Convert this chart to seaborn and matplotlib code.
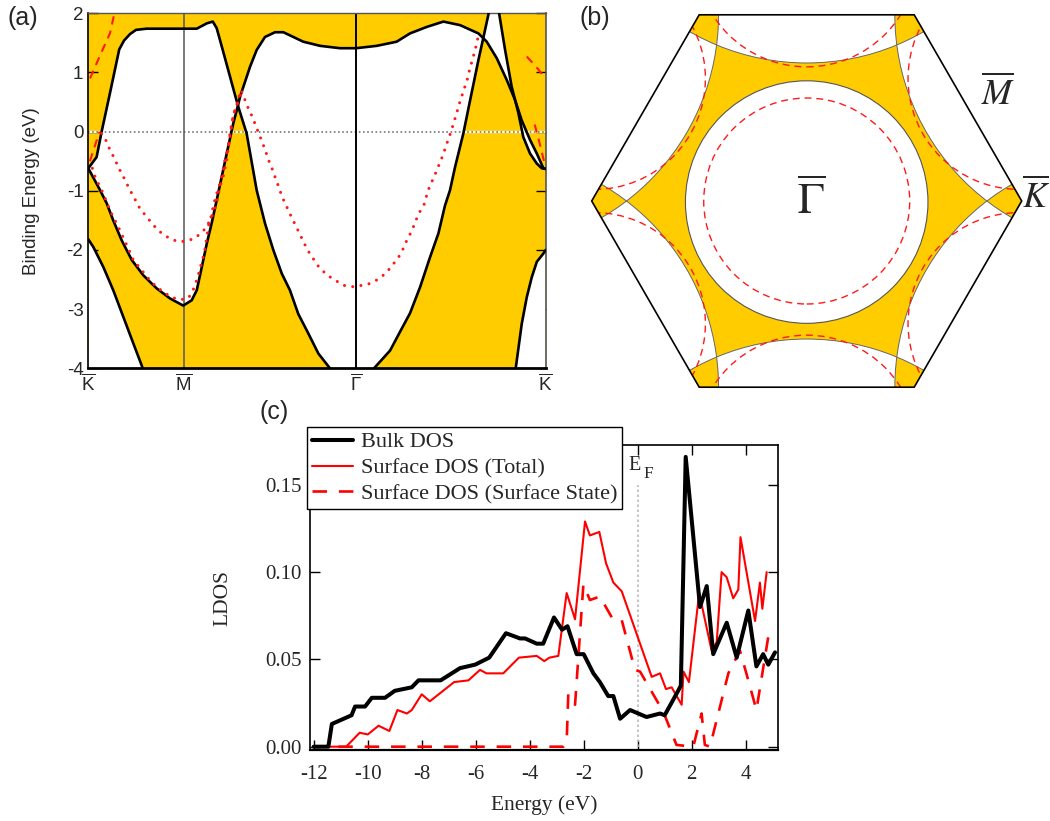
import numpy as np
import matplotlib
matplotlib.use("Agg")
import matplotlib.pyplot as plt
import seaborn as sns
from matplotlib.patches import Polygon, Circle, PathPatch
from matplotlib.path import Path

# ======================= DATA =======================
# ---- panel (a): projected band structure along K-M-Gamma-K ----
K_TICKS = [0.0, 0.495, 1.385, 2.366]
K_LABELS = [r"$\overline{\mathrm{K}}$", r"$\overline{\mathrm{M}}$",
            r"$\overline{\Gamma}$", r"$\overline{\mathrm{K}}$"]
E_TICKS = [2, 1, 0, -1, -2, -3, -4]
E_TICK_LABELS = ["2", "1", "0", "-1", "-2", "-3", "-4"]

# crossing points shared by boundary curves
X1 = (0.774, 0.44)
X2 = (2.043, 1.58)
X3 = (2.208, 0.53)

BAND_A_K = [0.000, 0.043, 0.069, 0.112, 0.160, 0.185, 0.216, 0.247, 0.302, 0.561, 0.613,
            0.644, 0.664, 0.698, 0.733, 0.774, 0.819, 0.871, 0.914, 0.957, 1.001, 1.043,
            1.086, 1.138, 1.190, 1.250]
BAND_A_E = [-0.62, -0.43, 0.00, 0.65, 1.39, 1.54, 1.65, 1.72, 1.74, 1.74, 1.83,
            1.86, 1.75, 1.35, 0.93, 0.44, -0.03, -0.99, -1.55, -2.00, -2.40, -2.68,
            -3.08, -3.41, -3.75, -4.00]

BAND_C_K = [0.000, 0.061, 0.095, 0.129, 0.173, 0.225, 0.285, 0.354, 0.423, 0.491, 0.535,
            0.561, 0.587, 0.613, 0.638, 0.664, 0.716, 0.750, 0.774, 0.785, 0.837, 0.871,
            0.914, 0.966, 1.009, 1.112, 1.199, 1.302, 1.385, 1.492, 1.595, 1.664, 1.751,
            1.837, 1.923, 2.018, 2.043, 2.061, 2.113, 2.165, 2.208, 2.242, 2.285, 2.320,
            2.354, 2.366]
BAND_C_E = [-0.62, -0.99, -1.21, -1.50, -1.84, -2.17, -2.43, -2.65, -2.82, -2.94, -2.85,
            -2.68, -2.29, -1.89, -1.55, -1.16, -0.37, 0.14, 0.44, 0.59, 1.10, 1.38,
            1.60, 1.68, 1.68, 1.52, 1.45, 1.41, 1.41, 1.45, 1.52, 1.66, 1.77,
            1.86, 1.80, 1.66, 1.58, 1.52, 1.24, 0.87, 0.53, 0.19, -0.14, -0.37,
            -0.62, -0.63]

BAND_D_K = [1.478, 1.561, 1.613, 1.664, 1.716, 1.768, 1.811, 1.845, 1.871, 1.897, 1.940,
            1.975, 2.018, 2.043, 2.071]
BAND_D_E = [-4.00, -3.70, -3.38, -3.07, -2.63, -2.12, -1.72, -1.25, -0.99, -0.60, -0.03,
            0.53, 1.21, 1.58, 2.00]

BAND_B_K = [2.125, 2.156, 2.190, 2.208, 2.225, 2.250, 2.285, 2.320, 2.346, 2.366]
BAND_B_E = [2.00, 1.38, 0.76, 0.53, 0.31, -0.09, -0.37, -0.54, -0.62, -0.63]

BAND_L1_K = [0.000, 0.026, 0.078, 0.129, 0.181, 0.233, 0.276, 0.281]
BAND_L1_E = [-1.82, -1.95, -2.29, -2.68, -3.13, -3.58, -3.95, -4.00]
BAND_L2_K = [2.366, 2.354, 2.320, 2.294, 2.268, 2.242, 2.213, 2.211]
BAND_L2_E = [-2.00, -2.06, -2.20, -2.46, -2.80, -3.25, -3.95, -4.00]

# surface states (red dotted)
SS1_K = [0.069, 0.095, 0.112, 0.135, 0.155, 0.178, 0.199, 0.221, 0.267, 0.302, 0.336,
         0.380, 0.423, 0.466, 0.509, 0.552, 0.595, 0.621, 0.647, 0.664, 0.681, 0.698,
         0.716, 0.733, 0.750, 0.768, 0.794]
SS1_E = [-0.03, -0.17, -0.31, -0.45, -0.60, -0.74, -0.88, -1.02, -1.30, -1.44, -1.58,
         -1.72, -1.81, -1.86, -1.85, -1.80, -1.68, -1.55, -1.38, -1.21, -0.93, -0.76,
         -0.48, -0.03, 0.28, 0.45, 0.67]
SS3_K = [0.021, 0.035, 0.057, 0.078, 0.112, 0.155, 0.199, 0.233, 0.276, 0.305, 0.345,
         0.388, 0.431, 0.474, 0.517, 0.543, 0.564, 0.578, 0.592, 0.604, 0.613, 0.624,
         0.638, 0.647, 0.664, 0.678, 0.695, 0.707, 0.724, 0.737, 0.750, 0.768, 0.785]
SS3_E = [-0.62, -0.76, -0.91, -1.05, -1.33, -1.61, -1.92, -2.17, -2.34, -2.46, -2.60,
         -2.71, -2.80, -2.84, -2.82, -2.67, -2.48, -2.31, -2.15, -1.98, -1.78, -1.55,
         -1.41, -1.24, -1.05, -0.91, -0.68, -0.48, -0.26, 0.00, 0.28, 0.45, 0.66]
SS2_K = [0.794, 0.811, 0.828, 0.850, 0.866, 0.883, 0.900, 0.916, 0.931, 0.949, 0.964,
         0.980, 0.995, 1.012, 1.032, 1.052, 1.073, 1.094, 1.114, 1.138, 1.166, 1.195,
         1.238, 1.281, 1.324, 1.368, 1.411, 1.454, 1.497, 1.540, 1.575, 1.607, 1.630,
         1.650, 1.673, 1.690, 1.707, 1.737, 1.751, 1.763, 1.782, 1.802, 1.819, 1.837,
         1.850, 1.866, 1.880, 1.893, 1.906, 1.919, 1.933, 1.947, 1.961, 1.971, 1.983,
         1.995, 2.006, 2.018]
SS2_E = [0.67, 0.53, 0.39, 0.24, 0.10, -0.04, -0.18, -0.32, -0.47, -0.61, -0.75,
         -0.89, -1.03, -1.17, -1.31, -1.45, -1.59, -1.73, -1.87, -2.02, -2.16, -2.30,
         -2.43, -2.52, -2.60, -2.62, -2.60, -2.57, -2.50, -2.39, -2.25, -2.11, -1.97,
         -1.82, -1.68, -1.54, -1.40, -1.23, -1.07, -0.95, -0.81, -0.66, -0.52, -0.38,
         -0.24, -0.10, 0.04, 0.18, 0.32, 0.47, 0.61, 0.75, 0.89, 1.03, 1.17,
         1.31, 1.45, 1.62]
# red dashed pieces near K
SSD1_K = [0.009, 0.061, 0.112, 0.135]
SSD1_E = [0.90, 1.29, 1.66, 2.00]
SSD2_K = [0.008, 0.030, 0.058]
SSD2_E = [-0.50, -0.28, 0.00]
SSD3_K = [2.268, 2.310, 2.366]
SSD3_E = [1.27, 1.12, 0.90]
SSD4_K = [2.309, 2.335, 2.361]
SSD4_E = [0.12, -0.20, -0.55]

# ---- panel (b): Fermi-surface cut (units of BZ corner radius) ----
BZ_RADIUS = 1.0
INNER_R = 0.564
OUTER_R = 1.09
OUTER_DIST = 1.732
SS_INNER_R = 0.479
SS_OUTER_R = 0.516
SS_OUTER_DIST = 1.14
M_DIRECTIONS = [30, 90, 150, 210, 270, 330]
HEX_ANGLES = [0, 60, 120, 180, 240, 300]

# ---- panel (c): LDOS ----
E_BULK = [-12.0, -11.46, -11.33, -10.6, -10.47, -10.1, -9.85, -9.36, -9.0, -8.37, -8.12,
          -7.3, -6.58, -6.02, -5.5, -4.88, -4.36, -4.17, -3.74, -3.5, -3.1, -2.8, -2.6,
          -2.26, -2.0, -1.64, -1.4, -1.09, -0.9, -0.65, -0.28, 0.33, 0.83, 1.0, 1.5,
          1.6, 1.78, 2.31, 2.56, 2.8, 3.3, 3.67, 4.1, 4.4, 4.65, 4.84, 5.09]
LDOS_BULK = [0.0, 0.0, 0.013, 0.018, 0.023, 0.023, 0.028, 0.028, 0.032, 0.034, 0.038,
             0.038, 0.045, 0.047, 0.051, 0.065, 0.062, 0.062, 0.059, 0.059, 0.074, 0.067, 0.069,
             0.053, 0.053, 0.042, 0.037, 0.029, 0.029, 0.016, 0.021, 0.017, 0.019, 0.018, 0.032,
             0.035, 0.166, 0.080, 0.092, 0.053, 0.071, 0.051, 0.078, 0.046, 0.053, 0.047, 0.054]
E_SURF = [-11.8, -10.8, -10.3, -10.0, -9.6, -9.2, -8.9, -8.55, -8.37, -8.0, -7.7,
          -6.8, -6.27, -5.84, -5.6, -4.98, -4.4, -3.74, -3.46, -3.27, -2.94, -2.63,
          -2.32, -1.95, -1.77, -1.42, -1.17, -0.9, -0.59, 0.52, 0.83, 1.05, 1.26, 1.63,
          1.70, 1.90, 2.28, 2.74, 2.93, 3.11, 3.3, 3.54, 3.73, 3.81, 4.35, 4.53, 4.62, 4.78]
LDOS_SURF = [0.0, 0.0, 0.008, 0.007, 0.012, 0.009, 0.021, 0.019, 0.021, 0.030, 0.026,
             0.037, 0.038, 0.044, 0.042, 0.042, 0.051, 0.052, 0.049, 0.051, 0.052, 0.088,
             0.073, 0.129, 0.121, 0.123, 0.105, 0.094, 0.089, 0.040, 0.042, 0.033, 0.034, 0.024,
             0.043, 0.037, 0.088, 0.055, 0.060, 0.100, 0.097, 0.085, 0.090, 0.120, 0.072, 0.094, 0.079, 0.100]
E_SS = [-12.07, -2.75, -2.63, -2.57, -2.32, -2.01, -1.77, -1.40, -0.90, -0.59, -0.10,
        0.09, 0.95, 1.44, 2.06, 2.37, 2.49, 2.68, 3.36, 3.79, 4.10, 4.40, 4.84]
LDOS_SS = [0.0, 0.0, 0.003, 0.030, 0.024, 0.093, 0.084, 0.086, 0.0725, 0.0725, 0.044,
           0.043, 0.020, 0.001, 0.0, 0.019, 0.001, 0.0, 0.042, 0.055, 0.038, 0.021, 0.063]
DOS_XTICKS = [-12, -10, -8, -6, -4, -2, 0, 2, 4]
DOS_XTICK_LABELS = ["-12", "-10", "-8", "-6", "-4", "-2", "0", "2", "4"]
DOS_YTICKS = [0.00, 0.05, 0.10, 0.15]
DOS_YTICK_LABELS = ["0.00", "0.05", "0.10", "0.15"]
LEGEND_LABELS = ["Bulk DOS", "Surface DOS (Total)", "Surface DOS (Surface State)"]

# ======================= STYLE =======================
sns.set_style("white")
plt.rcParams["font.family"] = ["Liberation Sans", "DejaVu Sans"]
plt.rcParams["mathtext.fontset"] = "custom"
plt.rcParams["mathtext.rm"] = "Liberation Sans"
plt.rcParams["mathtext.it"] = "Liberation Sans:italic"
plt.rcParams["mathtext.bf"] = "Liberation Sans:bold"
YELLOW = "#ffcc00"
SERIF = "Liberation Serif"

W, H = 1050, 821
fig = plt.figure(figsize=(W / 100, H / 100), dpi=100)


def fx(px):
    return px / W


def fy(py):
    return 1 - py / H


# ======================= PANEL (a) =======================
axa = fig.add_axes([fx(88.3), fy(368.3), 457.4 / W, 355 / H])
axa.set_facecolor(YELLOW)
K_END = K_TICKS[-1]


def find(ks, es, p):
    return min(range(len(ks)), key=lambda i: (ks[i] - p[0]) ** 2 + (es[i] - p[1]) ** 2)


def seg(ks, es, i0=0, i1=None):
    if i1 is None:
        i1 = len(ks) - 1
    return list(zip(ks[i0:i1 + 1], es[i0:i1 + 1]))


A = (BAND_A_K, BAND_A_E)
C = (BAND_C_K, BAND_C_E)
D = (BAND_D_K, BAND_D_E)
B = (BAND_B_K, BAND_B_E)
iA1 = find(*A, X1)
iC1, iC2, iC3 = find(*C, X1), find(*C, X2), find(*C, X3)
iD2 = find(*D, X2)
iB3 = find(*B, X3)

gaps = [
    seg(*A, 0, iA1) + seg(*C, 0, iC1)[::-1],
    seg(*A, iA1) + seg(*D, 0, iD2) + seg(*C, iC1, iC2)[::-1],
    seg(*D, iD2) + seg(*B, 0, iB3) + seg(*C, iC2, iC3)[::-1],
    seg(*C, iC3) + seg(*B, iB3)[::-1],
    seg(BAND_L1_K, BAND_L1_E) + [(0.0, -4.0)],
    seg(BAND_L2_K, BAND_L2_E) + [(K_END, -4.0)],
]
for poly in gaps:
    xs, ys = zip(*poly)
    axa.fill(xs, ys, color="white", lw=0, zorder=1)

axa.axhline(0, color="white", lw=1.6, zorder=1.5)
axa.axhline(0, color="#777777", lw=1.2, ls=(0, (1, 1.5)), zorder=1.6)
axa.axvline(K_TICKS[1], color="#555555", lw=1.1, zorder=2)
axa.axvline(K_TICKS[2], color="black", lw=1.4, zorder=2)

for ks, es in [A, C, D, B, (BAND_L1_K, BAND_L1_E), (BAND_L2_K, BAND_L2_E)]:
    sns.lineplot(x=ks, y=es, ax=axa, color="black", lw=1.9, sort=False,
                 estimator=None, zorder=4)
for ks, es in [(SS1_K, SS1_E), (SS3_K, SS3_E), (SS2_K, SS2_E)]:
    sns.lineplot(x=ks, y=es, ax=axa, color="#ff1a1a", lw=2.2, sort=False,
                 estimator=None, linestyle=(0, (0.01, 2.7)), dash_capstyle="round",
                 zorder=5)
for ks, es in [(SSD1_K, SSD1_E), (SSD2_K, SSD2_E), (SSD3_K, SSD3_E), (SSD4_K, SSD4_E)]:
    sns.lineplot(x=ks, y=es, ax=axa, color="#ff1a1a", lw=1.5, sort=False,
                 estimator=None, linestyle=(0, (4, 3)), zorder=5)

axa.set_xlim(0, K_END)
axa.set_ylim(-4, 2)
axa.set_yticks(E_TICKS)
axa.set_yticklabels(E_TICK_LABELS)
axa.set_xticks(K_TICKS)
axa.set_xticklabels(K_LABELS)
axa.tick_params(axis="y", direction="in", length=7, width=1, left=True, right=True,
                labelsize=13.5, pad=3.5, color="black")
axa.tick_params(axis="x", length=0, pad=4, labelsize=13.5)
axa.set_xlabel("")
axa.set_ylabel("Binding Energy (eV)", fontsize=13.5)
axa.yaxis.set_label_coords(-0.105, 0.5)
for s, (c, lw) in {"left": ("black", 1.2), "bottom": ("black", 2.0),
                   "top": ("#555555", 1.0), "right": ("#555555", 1.2)}.items():
    axa.spines[s].set_color(c)
    axa.spines[s].set_linewidth(lw)

# ======================= PANEL (b) =======================
axb = fig.add_axes([fx(585), fy(395), 465 / W, 395 / H])
cx0, cy0, sc = 806.7, 201.0, 215.0
axb.set_xlim((585 - cx0) / sc, (1050 - cx0) / sc)
axb.set_ylim((cy0 - 395) / sc, cy0 / sc)
axb.axis("off")

hang = np.deg2rad(HEX_ANGLES)
hex_xy = np.c_[BZ_RADIUS * np.cos(hang), BZ_RADIUS * np.sin(hang)]
hexp = Polygon(hex_xy, closed=True, fc=YELLOW, ec="none", zorder=1)
axb.add_patch(hexp)

mang = np.deg2rad(M_DIRECTIONS)
centers = [(OUTER_DIST * np.cos(a), OUTER_DIST * np.sin(a)) for a in mang]
for c in centers:
    circ = Circle(c, OUTER_R, fc="white", ec="none", zorder=1.1)
    axb.add_patch(circ)
    circ.set_clip_path(hexp)
for i in range(6):
    clipc = Circle(centers[i], OUTER_R, transform=axb.transData)
    lens = Circle(centers[(i + 1) % 6], OUTER_R, fc=YELLOW, ec="none", zorder=1.2)
    axb.add_patch(lens)
    lens.set_clip_path(clipc)
# white outside the hexagon
outer = np.array([[-3, -3], [3, -3], [3, 3], [-3, 3], [-3, -3]])
hole = np.vstack([hex_xy[::-1], hex_xy[-1:]])
verts = np.vstack([outer, hole])
codes = ([Path.MOVETO] + [Path.LINETO] * 3 + [Path.CLOSEPOLY] +
         [Path.MOVETO] + [Path.LINETO] * 5 + [Path.CLOSEPOLY])
axb.add_patch(PathPatch(Path(verts, codes), fc="white", ec="none", zorder=1.3))

axb.add_patch(Circle((0, -0.005), INNER_R, fc="white", ec="#555555", lw=0.8, zorder=1.4))
for c in centers:
    e = Circle(c, OUTER_R, fill=False, ec="#666666", lw=0.7, zorder=1.5)
    axb.add_patch(e)
    e.set_clip_path(hexp)
axb.add_patch(Circle((0, 0), SS_INNER_R, fill=False, ec="#ff1a1a", lw=1.0,
                     ls=(0, (5, 3.5)), zorder=1.6))
for a in mang:
    e = Circle((SS_OUTER_DIST * np.cos(a), SS_OUTER_DIST * np.sin(a)), SS_OUTER_R,
               fill=False, ec="#ff1a1a", lw=1.0, ls=(0, (5, 3.5)), zorder=1.6)
    axb.add_patch(e)
    e.set_clip_path(hexp)
axb.add_patch(Polygon(hex_xy, closed=True, fill=False, ec="black", lw=1.2, zorder=2))

axb.text(0.02, 0.0, r"$\overline{\Gamma}$", math_fontfamily="stix", fontsize=32,
         ha="center", va="center")
axb.text(0.892, 0.50, r"$\overline{M}$", math_fontfamily="stix", fontsize=26,
         ha="center", va="center")
axb.text(1.066, 0.02, r"$\overline{K}$", math_fontfamily="stix", fontsize=26,
         ha="center", va="center")

# ======================= PANEL (c) =======================
axc = fig.add_axes([fx(310), fy(750), 468 / W, 305 / H])
sns.lineplot(x=E_BULK, y=LDOS_BULK, ax=axc, color="black", lw=2.9, sort=False,
             estimator=None, label=LEGEND_LABELS[0], zorder=4)
sns.lineplot(x=E_SURF, y=LDOS_SURF, ax=axc, color="#ff0000", lw=1.5, sort=False,
             estimator=None, label=LEGEND_LABELS[1], zorder=3)
sns.lineplot(x=E_SS, y=LDOS_SS, ax=axc, color="#ff0000", lw=1.9, sort=False,
             estimator=None, label=LEGEND_LABELS[2], linestyle=(0, (5.5, 4.5)), zorder=3)
axc.vlines(0, 0, 0.15, color="#bbbbbb", lw=1.2, ls=(0, (1.5, 1.5)), zorder=1)

axc.set_xlim(-12.14, 5.2)
axc.set_ylim(-0.0019, 0.1728)
axc.set_xticks(DOS_XTICKS)
axc.set_xticklabels(DOS_XTICK_LABELS)
axc.set_yticks(DOS_YTICKS)
axc.set_yticklabels(DOS_YTICK_LABELS)
axc.tick_params(direction="in", length=7, width=1, top=True, right=True, bottom=True,
                left=True, labelsize=15, labelfontfamily=SERIF, color="black")
axc.tick_params(axis="x", pad=11)
axc.tick_params(axis="y", pad=6)
axc.set_xlabel("Energy (eV)", fontfamily=SERIF, fontsize=15.5)
axc.set_ylabel("LDOS", fontfamily=SERIF, fontsize=15.5)
axc.xaxis.set_label_coords(0.5, -0.15)
axc.yaxis.set_label_coords(-0.165, 0.5)
for s in axc.spines.values():
    s.set_color("black")
    s.set_linewidth(1.2)
axc.spines["bottom"].set_linewidth(1.6)

axc.text(-0.36, 0.1585, "E", fontfamily=SERIF, fontsize=14.5, va="baseline", ha="left")
axc.text(0.20, 0.1539, "F", fontfamily=SERIF, fontsize=12.5, va="baseline", ha="left")

handles, labels = axc.get_legend_handles_labels()
leg = axc.legend(handles, labels, loc="upper left", bbox_to_anchor=(fx(307), fy(427)),
                 bbox_transform=fig.transFigure, prop={"family": SERIF, "size": 16},
                 frameon=True, fancybox=False, edgecolor="black", framealpha=1,
                 borderaxespad=0, handlelength=1.85, handletextpad=0.35,
                 labelspacing=0.24, borderpad=0.22)
leg.get_frame().set_linewidth(1.0)
leg.set_zorder(10)

# ======================= panel letters =======================
fig.text(fx(23), fy(18), "(a)", fontsize=18, ha="center", va="center")
fig.text(fx(595), fy(18), "(b)", fontsize=18, ha="center", va="center")
fig.text(fx(274), fy(412), "(c)", fontsize=18, ha="center", va="center")

fig.savefig("out.png", dpi=100)
